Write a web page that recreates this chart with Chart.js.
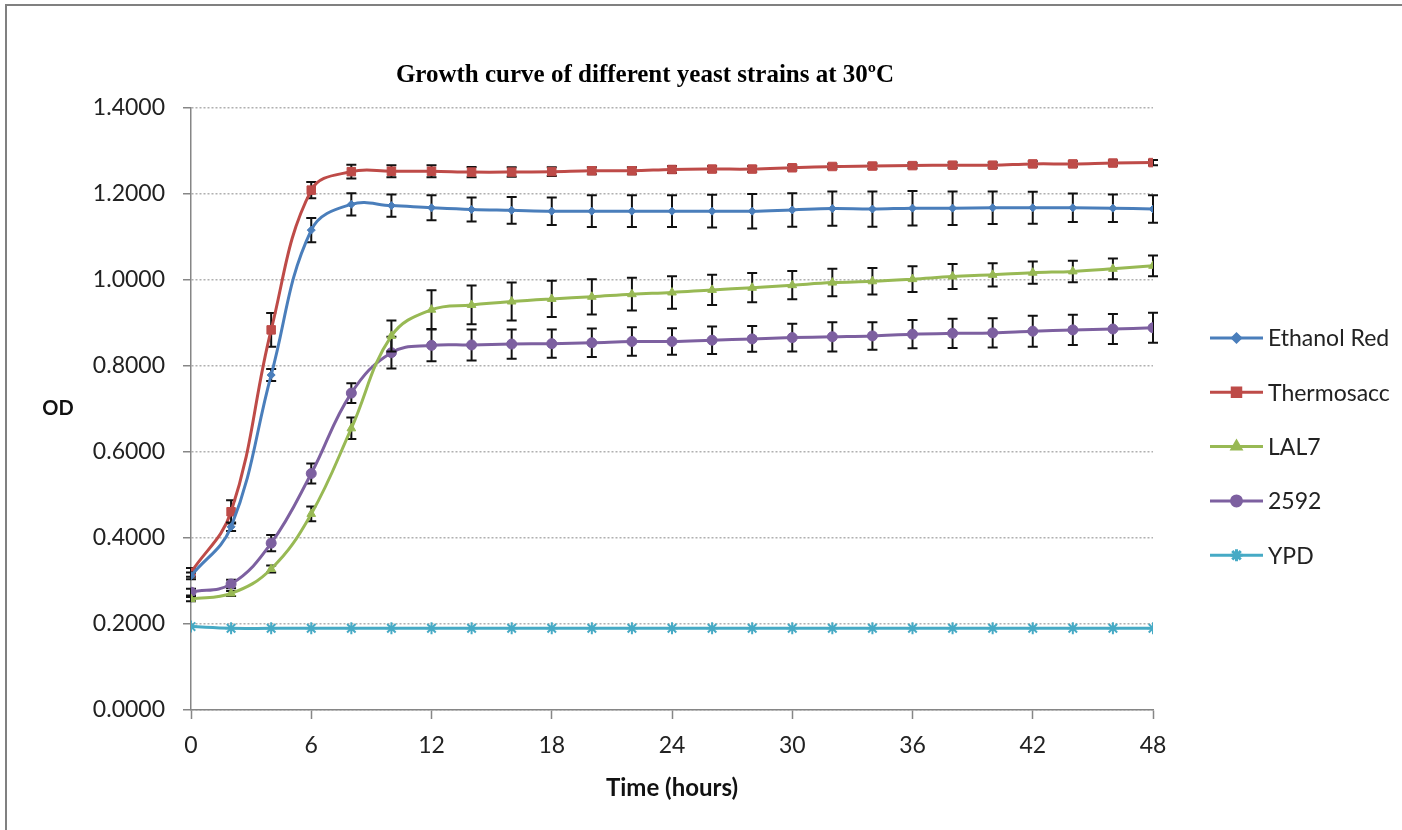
<!DOCTYPE html>
<html>
<head>
<meta charset="utf-8">
<title>Yeast growth curves</title>
<script src="https://cdn.jsdelivr.net/npm/chart.js@4.4.1/dist/chart.umd.min.js"></script>
<style>
  html, body { margin: 0; padding: 0; background: #fff; }
  #wrap { width: 1402px; height: 830px; }
</style>
</head>
<body>
<div id="wrap"><canvas id="growthChart" width="1402" height="830"></canvas></div>
<script>
// sampling times (hours)
const hours = [0, 2, 4, 6, 8, 10, 12, 14, 16, 18, 20, 22, 24, 26, 28, 30, 32, 34, 36, 38, 40, 42, 44, 46, 48];

// mean OD per strain
const ethanolRed = [0.312, 0.426, 0.779, 1.116, 1.176, 1.173, 1.168, 1.164, 1.162, 1.160, 1.160, 1.160, 1.160,
                    1.160, 1.160, 1.163, 1.166, 1.165, 1.167, 1.167, 1.168, 1.168, 1.168, 1.167, 1.165];
const thermosacc = [0.320, 0.461, 0.884, 1.209, 1.252, 1.253, 1.253, 1.251, 1.251, 1.252, 1.254, 1.254, 1.257,
                    1.258, 1.258, 1.261, 1.264, 1.265, 1.266, 1.267, 1.267, 1.270, 1.270, 1.272, 1.273];
const lal7 = [0.258, 0.271, 0.328, 0.456, 0.655, 0.870, 0.931, 0.942, 0.950, 0.956, 0.961, 0.967, 0.971,
              0.977, 0.982, 0.988, 0.994, 0.997, 1.002, 1.008, 1.012, 1.017, 1.020, 1.026, 1.033];
const s2592 = [0.274, 0.293, 0.388, 0.550, 0.737, 0.831, 0.848, 0.849, 0.851, 0.852, 0.854, 0.857, 0.857,
               0.860, 0.863, 0.866, 0.868, 0.870, 0.874, 0.876, 0.877, 0.881, 0.884, 0.886, 0.889];
const ypd = [0.194, 0.190, 0.190, 0.190, 0.190, 0.190, 0.190, 0.190, 0.190, 0.190, 0.190, 0.190, 0.190,
             0.190, 0.190, 0.190, 0.190, 0.190, 0.190, 0.190, 0.190, 0.190, 0.190, 0.190, 0.190];

// standard deviations (error bars)
const ethanolRedErr = [0.008, 0.010, 0.014, 0.028, 0.026, 0.026, 0.029, 0.028, 0.031, 0.032, 0.037, 0.037, 0.037,
                       0.038, 0.040, 0.039, 0.040, 0.041, 0.040, 0.039, 0.038, 0.037, 0.033, 0.032, 0.032];
const thermosaccErr = [0.010, 0.027, 0.039, 0.019, 0.016, 0.014, 0.014, 0.012, 0.011, 0.010, 0.008, 0.008, 0.008,
                       0.007, 0.007, 0.006, 0.006, 0.006, 0.006, 0.006, 0.006, 0.006, 0.006, 0.006, 0.006];
const lal7Err = [0.005, 0.006, 0.008, 0.017, 0.025, 0.036, 0.045, 0.045, 0.044, 0.042, 0.041, 0.038, 0.038,
                 0.035, 0.034, 0.033, 0.032, 0.031, 0.030, 0.029, 0.027, 0.026, 0.025, 0.024, 0.024];
const s2592Err = [0.008, 0.010, 0.019, 0.023, 0.023, 0.037, 0.037, 0.036, 0.034, 0.033, 0.033, 0.033, 0.031,
                  0.032, 0.030, 0.032, 0.034, 0.032, 0.033, 0.034, 0.034, 0.036, 0.035, 0.035, 0.035];

const strainNames = ['Ethanol Red', 'Thermosacc', 'LAL7', '2592', 'YPD'];
const xTicks = [0, 6, 12, 18, 24, 30, 36, 42, 48];
const chartTitle = 'Growth curve of different yeast strains at 30ºC';

const LABEL_FONT = 'Lato, "Open Sans", sans-serif';

function series(name, values, errors, color, pointStyle, radius) {
  return {
    label: name,
    data: hours.map((h, i) => ({ x: h, y: values[i] })),
    errors: errors,
    borderColor: color,
    backgroundColor: color,
    borderWidth: 3,
    tension: 0.4,
    pointStyle: pointStyle,
    pointRadius: radius,
    pointBorderWidth: pointStyle === 'star' ? 2 : 1,
    pointBorderColor: color,
    pointBackgroundColor: color
  };
}

// error bars for a dataset, drawn just before the line itself
const errorBars = {
  id: 'errorBars',
  beforeDatasetDraw(chart, args) {
    const ds = chart.data.datasets[args.index];
    if (!ds.errors) return;
    const yScale = chart.scales.y;
    const ctx = chart.ctx;
    ctx.save();
    ctx.strokeStyle = '#111';
    ctx.lineWidth = 2;
    args.meta.data.forEach((pt, i) => {
      const v = ds.data[i].y, e = ds.errors[i];
      const top = yScale.getPixelForValue(v + e);
      const bot = yScale.getPixelForValue(v - e);
      ctx.beginPath();
      ctx.moveTo(pt.x, top); ctx.lineTo(pt.x, bot);
      ctx.moveTo(pt.x - 5, top); ctx.lineTo(pt.x + 5, top);
      ctx.moveTo(pt.x - 5, bot); ctx.lineTo(pt.x + 5, bot);
      ctx.stroke();
    });
    ctx.restore();
  }
};

// frame, title, "OD" label and the line+marker legend on the right
const decorations = {
  id: 'decorations',
  beforeDraw(chart) {
    const ctx = chart.ctx;
    ctx.save();
    ctx.fillStyle = '#fff';
    ctx.fillRect(0, 0, chart.width, chart.height);
    ctx.strokeStyle = '#808080';
    ctx.lineWidth = 2;
    ctx.beginPath();
    ctx.moveTo(6, chart.height); ctx.lineTo(6, 5); ctx.lineTo(chart.width, 5);
    ctx.stroke();
    ctx.restore();
  },
  afterDraw(chart) {
    const ctx = chart.ctx;
    const area = chart.chartArea;
    ctx.save();
    ctx.fillStyle = '#000';
    ctx.font = 'bold 25px "Liberation Serif", "Times New Roman", serif';
    ctx.textAlign = 'center';
    ctx.textBaseline = 'alphabetic';
    ctx.fillText(chartTitle, 645, 82);

    ctx.fillStyle = '#111';
    ctx.font = 'bold 20px ' + LABEL_FONT;
    ctx.textBaseline = 'middle';
    ctx.fillText('OD', 58, (area.top + area.bottom) / 2);

    const x0 = area.right + 57, x1 = area.right + 110;
    let y = 338;
    ctx.font = '23px ' + LABEL_FONT;
    ctx.textAlign = 'left';
    chart.data.datasets.forEach(ds => {
      ctx.strokeStyle = ds.borderColor;
      ctx.lineWidth = 3;
      ctx.beginPath();
      ctx.moveTo(x0, y); ctx.lineTo(x1, y);
      ctx.stroke();
      Chart.helpers.drawPoint(ctx, {
        pointStyle: ds.pointStyle,
        radius: ds.pointRadius,
        borderWidth: ds.pointBorderWidth,
        rotation: 0
      }, (x0 + x1) / 2, y);
      ctx.fillStyle = ds.borderColor;
      ctx.fill();
      ctx.fillStyle = '#222';
      ctx.fillText(ds.label, x1 + 5, y + 1);
      y += 54.3;
    });
    ctx.restore();
  }
};

new Chart(document.getElementById('growthChart'), {
  type: 'line',
  data: {
    datasets: [
      series(strainNames[0], ethanolRed, ethanolRedErr, '#4a7ebb', 'rectRot', 4),
      series(strainNames[1], thermosacc, thermosaccErr, '#be4b48', 'rect', 6),
      series(strainNames[2], lal7, lal7Err, '#98b954', 'triangle', 5),
      series(strainNames[3], s2592, s2592Err, '#7d60a0', 'circle', 5),
      series(strainNames[4], ypd, null, '#46aac5', 'star', 6)
    ]
  },
  options: {
    responsive: false,
    animation: false,
    layout: { padding: { left: 0, right: 249, top: 108, bottom: 0 } },
    plugins: {
      legend: { display: false },
      tooltip: { enabled: false },
      title: { display: false }
    },
    scales: {
      x: {
        type: 'linear',
        min: 0,
        max: 48,
        afterBuildTicks(scale) { scale.ticks = xTicks.map(v => ({ value: v })); },
        afterFit(scale) { scale.height = 120; },
        grid: { drawOnChartArea: false, drawTicks: true, tickLength: 9, tickColor: '#868686', tickWidth: 1.5 },
        border: { color: '#868686', width: 1.5 },
        ticks: { color: '#222', font: { family: LABEL_FONT, size: 23 }, padding: 13, maxRotation: 0 },
        title: {
          display: true,
          text: 'Time (hours)',
          color: '#111',
          font: { family: LABEL_FONT, size: 24, weight: 'bold' },
          padding: { top: 0, bottom: 27 }
        }
      },
      y: {
        min: 0,
        max: 1.4,
        afterFit(scale) { scale.width = 191; },
        ticks: {
          stepSize: 0.2,
          color: '#222',
          font: { family: LABEL_FONT, size: 23 },
          padding: 18,
          callback: v => v.toFixed(4)
        },
        grid: { color: '#b0b0b0', lineWidth: 1.5, tickLength: 8, tickColor: '#868686', tickWidth: 1.5 },
        border: { color: '#868686', width: 1.5, dash: [2, 2] }
      }
    }
  },
  plugins: [errorBars, decorations]
});
</script>
</body>
</html>
